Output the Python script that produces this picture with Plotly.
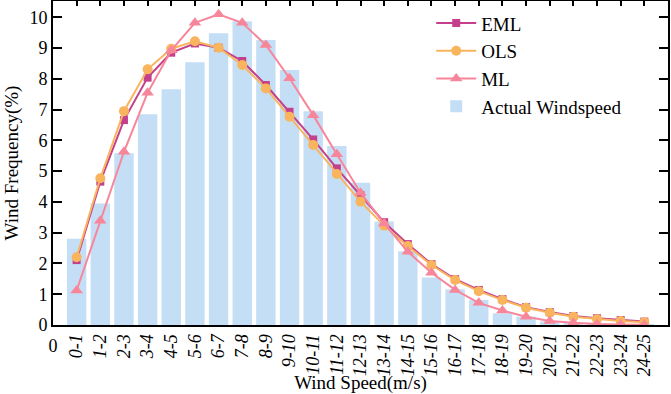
import plotly.graph_objects as go

categories = ["0-1","1-2","2-3","3-4","4-5","5-6","6-7","7-8","8-9","9-10","10-11","11-12",
              "12-13","13-14","14-15","15-16","16-17","17-18","18-19","19-20","20-21","21-22",
              "22-23","23-24","24-25"]
actual = [2.80,3.95,5.58,6.85,7.66,8.54,9.48,9.87,9.26,8.29,6.95,5.82,4.62,3.36,2.40,1.54,1.16,0.81,0.38,0.27,0.12,0.07,0.04,0.02,0.01]
eml = [2.11,4.66,6.66,8.04,8.85,9.15,9.01,8.58,7.80,6.93,6.03,5.09,4.22,3.34,2.63,1.98,1.49,1.14,0.84,0.58,0.42,0.29,0.22,0.16,0.11]
ols = [2.20,4.77,6.95,8.31,8.98,9.22,9.01,8.45,7.69,6.77,5.85,4.91,4.01,3.23,2.57,1.95,1.46,1.10,0.81,0.56,0.40,0.27,0.19,0.13,0.09]
ml = [1.12,3.39,5.63,7.55,8.93,9.82,10.10,9.82,9.10,8.02,6.82,5.55,4.30,3.30,2.38,1.70,1.14,0.72,0.47,0.27,0.13,0.07,0.03,0.02,0.01]

xpos = list(range(1, len(categories) + 1))
FONT = "Liberation Serif, Times New Roman, serif"

fig = go.Figure()
fig.add_trace(go.Bar(x=xpos, y=actual, name="Actual Windspeed", width=0.82, legendrank=4,
                     marker=dict(color="#C4DEF6", line=dict(width=0))))
fig.add_trace(go.Scatter(x=xpos, y=eml, name="EML", mode="lines+markers", legendrank=1,
                         line=dict(color="#C4408C", width=2),
                         marker=dict(symbol="square", size=8, color="#C4408C")))
fig.add_trace(go.Scatter(x=xpos, y=ols, name="OLS", mode="lines+markers", legendrank=2,
                         line=dict(color="#F9B45E", width=2),
                         marker=dict(symbol="circle", size=10, color="#F9B45E")))
fig.add_trace(go.Scatter(x=xpos, y=ml, name="ML", mode="lines+markers", legendrank=3,
                         line=dict(color="#F7869A", width=2),
                         marker=dict(symbol="triangle-up", size=11, color="#F7869A")))
# invisible traces for the extra axes
fig.add_trace(go.Scatter(x=[0], y=[0], xaxis="x2", showlegend=False, mode="markers",
                         marker=dict(opacity=0), hoverinfo="skip"))
fig.add_trace(go.Scatter(x=[0], y=[0], xaxis="x3", showlegend=False, mode="markers",
                         marker=dict(opacity=0), hoverinfo="skip"))

XR = [0, 26]
fig.update_layout(
    width=671, height=394,
    margin=dict(l=53, r=3, t=1, b=69),
    plot_bgcolor="white", paper_bgcolor="white",
    font=dict(family=FONT, size=18, color="black"),
    showlegend=True,
    legend=dict(x=0.615, y=0.99, xanchor="left", yanchor="top",
                bgcolor="rgba(0,0,0,0)", font=dict(size=19), tracegroupgap=0,
                traceorder="normal", itemwidth=40),
    xaxis=dict(range=XR, tickmode="array", tickvals=xpos,
               ticktext=["<i>%s</i>" % c for c in categories],
               tickangle=-90, ticks="", showline=True, linecolor="black", linewidth=2,
               mirror=True, showgrid=False, zeroline=False,
               tickfont=dict(size=18), automargin=False,
               title=dict(text="Wind Speed(m/s)", font=dict(size=19), standoff=0)),
    xaxis2=dict(range=XR, overlaying="x", side="top", tickmode="array", tickvals=xpos,
                ticks="inside", ticklen=5, tickwidth=2, tickcolor="black",
                showticklabels=False, showline=False, showgrid=False, zeroline=False),
    xaxis3=dict(range=XR, overlaying="x", side="bottom", tickmode="array", tickvals=[0],
                ticktext=["0"], tickangle=0, ticks="", showline=False, showgrid=False,
                zeroline=False, tickfont=dict(size=18), ticklabelstandoff=8),
    yaxis=dict(range=[0, 10.53], dtick=1, tick0=0, ticks="inside", ticklen=9, tickwidth=2,
               tickcolor="black", showline=True, linecolor="black", linewidth=2,
               mirror="ticks", showgrid=False, zeroline=False, tickfont=dict(size=18),
               automargin=False,
               title=dict(text="Wind Frequency(%)", font=dict(size=19), standoff=6)),
)
fig.write_html("out.html", config={"displayModeBar": False},
               post_script="document.body.style.margin='0';")
